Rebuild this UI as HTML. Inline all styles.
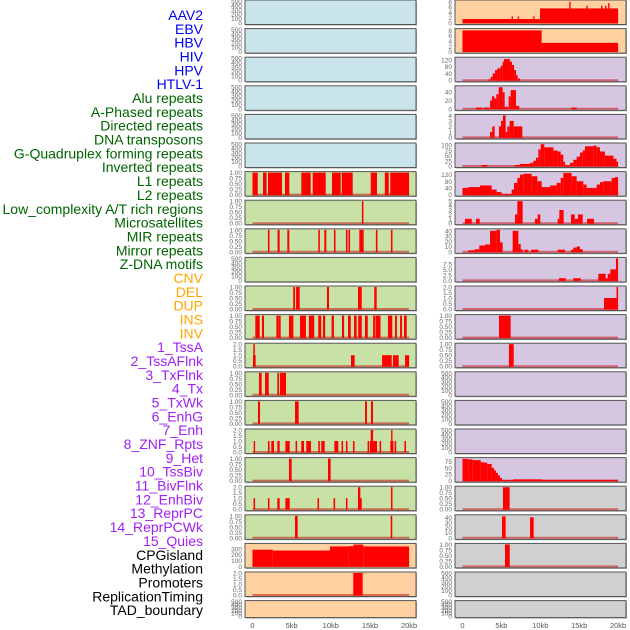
<!DOCTYPE html>
<html><head><meta charset="utf-8"><style>
body{margin:0;background:#fff;width:630px;height:630px;overflow:hidden;font-family:"Liberation Sans",sans-serif}
svg{display:block}
</style></head><body>
<svg id="c" width="630" height="630" xmlns="http://www.w3.org/2000/svg"></svg>
<script>
// ---- track labels ----
const labelNames = ["AAV2","EBV","HBV","HIV","HPV","HTLV-1","Alu repeats","A-Phased repeats","Directed repeats","DNA transposons","G-Quadruplex forming repeats","Inverted repeats","L1 repeats","L2 repeats","Low_complexity A/T rich regions","Microsatellites","MIR repeats","Mirror repeats","Z-DNA motifs","CNV","DEL","DUP","INS","INV","1_TssA","2_TssAFlnk","3_TxFlnk","4_Tx","5_TxWk","6_EnhG","7_Enh","8_ZNF_Rpts","9_Het","10_TssBiv","11_BivFlnk","12_EnhBiv","13_ReprPC","14_ReprPCWk","15_Quies","CPGisland","Methylation","Promoters","ReplicationTiming","TAD_boundary"];
const labelGroups = [6,13,5,15,5];
const groupColors = ["#0000ee","#006400","#ffa500","#a020f0","#000000"];
const xTickVals = [0,5,10,15,20];
const xTickLabels = ["0","5kb","10kb","15kb","20kb"];

// tick label sets
const T500 = ["0","100","200","300","400","500"];
const T1 = ["0.00","0.25","0.50","0.75","1.00"];
const T2 = ["0.0","0.5","1.0","1.5","2.0"];

// ---- left column segments [startKb, endKb, value] ----
const L6 = [[0,0.67,1],[1.34,1.8,1],[1.98,3.77,1],[4.15,4.7,1],[6.23,7.43,1],[7.69,9.35,1],[10.15,11.26,1],[11.39,12.8,1],[15.1,15.9,1],[16.9,17.4,1],[17.6,20,1]];
const L7 = [[13.97,14.17,1]];
const L8 = [[1.97,2.17,1],[3.2,3.47,1],[4.45,4.7,1],[8.4,8.6,1],[9.17,9.43,1],[10.4,10.6,1],[11.93,12.13,1],[12.26,12.46,1],[13.64,14.2,1],[15.76,15.96,1],[17.68,17.88,1]];
const L10 = [[5.2,5.43,1],[5.56,6.03,1],[9.51,9.77,1],[13.47,13.95,1],[15.55,15.86,1]];
const L11 = [[0.36,0.92,1],[1.21,1.47,1],[3.05,3.36,1],[3.39,3.6,1],[4.66,5.22,1],[6.07,6.83,1],[7.2,7.88,1],[8.4,8.78,1],[9.0,9.28,1],[10.1,10.4,1],[11.43,11.7,1],[12.2,12.55,1],[12.97,13.3,1],[13.5,13.95,1],[14.37,14.72,1],[15.4,15.64,1],[15.7,16.35,1],[17.3,17.85,1],[18.2,18.44,1],[18.85,19.1,1],[19.35,19.7,1]];
const L12 = [[0.06,0.4,1],[0.1,0.3,2],[12.58,13.05,1],[16.54,17.78,1],[17.94,18.67,1],[19.48,20,1]];
const L13 = [[0.83,1.17,1],[1.6,2.07,1],[3.17,3.38,1],[3.51,4.28,1]];
const L14 = [[0.7,0.96,1],[5.43,5.9,1],[14.37,14.62,1],[15.13,15.39,1]];
const L15 = [[0.15,0.33,1],[1.97,2.17,1],[2.4,2.75,1],[3.17,3.47,1],[4.2,4.75,1],[5.5,5.7,1],[6.23,6.58,1],[6.87,7.47,1],[8.4,8.6,1],[8.78,9.22,1],[10.45,10.96,1],[11.37,11.57,1],[11.93,12.13,1],[12.83,13.03,1],[14.7,14.9,1],[15.0,15.9,1],[15.1,15.4,2],[16.23,16.43,1],[17.6,18.0,1],[17.7,17.85,2],[18.15,18.35,1],[19.4,19.6,1]];
const L16 = [[4.66,5.0,1],[9.64,9.98,1]];
const L17 = [[0.13,0.33,1],[1.97,2.17,1],[3.17,3.47,1],[4.2,4.75,1],[8.3,8.5,1],[10.35,10.55,1],[11.93,12.13,1],[13.47,13.95,1],[13.47,13.77,2],[17.68,17.88,2]];
const L18 = [[5.43,5.77,1],[17.65,17.85,1]];
const L19 = [[0,2.6,285],[2.6,9.9,270],[9.9,12.24,340],[12.24,12.9,345],[12.9,14.15,372],[14.15,20,340]];
const L20 = [[12.87,14.07,2]];

// ---- right column segments ----
const R0 = [[0,9.96,1.5],[9.96,20,5.5],[6.3,6.45,2.5],[7.1,7.25,2.5],[9.08,9.23,2.5],[13.72,13.88,8],[15.9,16.05,6.5],[17.82,17.98,6.5],[18.32,18.48,6.5],[18.72,18.9,7.5]];
const R1 = [[0,10.17,8],[10.17,20,3.3]];
const R2 = [[3.36,3.62,5],[3.62,3.88,20],[3.88,4.18,40],[4.18,4.48,60],[4.48,4.9,70],[4.9,5.16,85],[5.16,5.33,110],[5.33,6.1,125],[6.1,6.36,110],[6.36,6.62,90],[6.62,6.88,60],[6.88,7.09,30],[7.09,7.39,10]];
const R3 = [[1.74,2.6,3],[2.77,3.45,3],[3.54,3.79,20],[3.79,4.09,30],[4.09,4.35,25],[4.35,4.65,35],[4.65,5.16,52],[5.16,5.42,40],[5.42,5.85,5],[5.93,6.19,30],[6.19,6.88,45],[6.88,7.3,7],[13.99,14.67,3]];
const R4 = [[3.54,3.83,1],[3.83,4.13,2],[4.69,4.95,2],[4.95,5.2,3],[5.2,5.55,4],[5.55,5.76,1],[5.76,6.06,2],[6.06,6.58,3],[6.58,7.69,2]];
const R5 = [[2.46,3.19,5],[6.75,7.39,5],[7.39,8.68,10],[8.68,9.1,15],[9.1,9.45,25],[9.45,9.75,40],[9.75,10.05,80],[10.05,10.52,105],[10.52,11.68,90],[11.68,12.23,75],[12.23,12.62,70],[12.62,12.96,55],[12.96,13.18,20],[13.18,13.82,5],[13.82,14.25,15],[14.25,14.67,30],[14.67,15.1,45],[15.1,15.45,65],[15.45,15.74,75],[15.74,16.81,95],[16.81,17.24,98],[17.24,17.67,90],[17.67,18.3,70],[18.3,19.4,50],[19.4,19.8,35],[19.8,20,20]];
const R6 = [[0,0.75,40],[0.75,2.25,45],[2.25,3.75,55],[3.75,4.39,30],[4.39,5.03,15],[5.03,6.32,3],[6.32,6.62,30],[6.62,7.05,70],[7.05,7.39,100],[7.39,7.82,120],[7.82,8.89,125],[8.89,9.62,110],[9.62,10.18,80],[10.18,11.25,45],[11.25,12.11,55],[12.11,12.62,70],[12.62,12.96,100],[12.96,14.03,130],[14.03,14.67,110],[14.67,15.53,80],[15.53,15.96,60],[15.96,17.24,40],[17.24,17.67,60],[17.67,18.1,75],[18.1,19.17,80],[19.17,19.6,100],[19.6,20,105]];
const R7 = [[0.32,1.18,1],[1.74,2.21,1],[6.75,7.05,2],[7.05,7.73,5],[9.32,9.66,1],[9.66,10.0,2],[12.23,12.45,1],[12.45,13.0,3],[13.95,14.42,2],[14.42,14.85,1],[14.85,15.45,2],[16.0,16.9,1]];
const R8 = [[0.75,1.6,3],[1.6,2.16,5],[2.16,2.89,12],[2.89,3.54,14],[3.54,4.39,40],[4.39,4.82,42],[4.82,5.16,18],[6.45,7.18,40],[7.18,7.48,15],[7.48,7.73,5],[7.95,8.46,4],[8.8,9.75,4],[12.23,13.18,4],[13.95,14.25,4],[14.25,14.67,8],[14.67,15.1,10],[15.1,15.45,5]];
const R9 = [[12.4,13.26,1],[14.25,15.19,1],[17.46,18.4,3],[18.4,18.66,1],[18.66,19.0,3],[19.0,19.73,5],[19.73,20,10]];
const R10 = [[18.19,19.8,1],[19.8,20,2]];
const R11 = [[4.69,6.19,1]];
const R12 = [[5.97,6.58,1]];
const R16 = [[0,0.75,85],[0.75,1.31,83],[1.31,2.34,80],[2.34,2.77,72],[2.77,3.19,70],[3.19,3.75,65],[3.75,4.05,50],[4.05,4.3,40],[4.3,4.56,30],[4.56,4.82,20],[4.82,5.08,10],[5.08,6.53,2],[6.53,10.18,5],[10.18,20,3]];
const R17 = [[5.2,6.06,1]];
const R18 = [[5.08,5.55,42],[8.68,9.15,40]];
const R19 = [[5.46,6.07,1]];

const BLUE="#c9e4eb",GREEN="#c8e1a6",PEACH="#ffd0a0",PURP="#d6c6e2",GRAY="#d0d0d0";
// [col,row,bg,ticks,ymax,segments,baseline,name]
const panels = [];
function P(col,row,bg,ticks,ymax,seg,base,name){panels.push({col,row,bg,ticks,ymax,seg,base,name});}
for(let r=0;r<6;r++) P(0,r,BLUE,T500,500,[],false,labelNames[r]);
P(0,6,GREEN,T1,1,L6,true,"alu");P(0,7,GREEN,T1,1,L7,true,"a-phased");P(0,8,GREEN,T1,1,L8,true,"directed");
P(0,9,GREEN,T500,500,[],false,"dna-transposons");P(0,10,GREEN,T1,1,L10,true,"g-quad");P(0,11,GREEN,T1,1,L11,true,"inverted");
P(0,12,GREEN,T2,2,L12,true,"l1");P(0,13,GREEN,T1,1,L13,true,"l2");P(0,14,GREEN,T1,1,L14,true,"low-complexity");
P(0,15,GREEN,T2,2,L15,true,"microsatellites");P(0,16,GREEN,T1,1,L16,true,"mir");P(0,17,GREEN,T2,2,L17,true,"mirror");
P(0,18,GREEN,T1,1,L18,true,"z-dna");P(0,19,PEACH,["0","100","200","300"],375,L19,false,"cnv");
P(0,20,PEACH,T2,2,L20,true,"del");P(0,21,PEACH,T500,500,[],false,"dup");
P(1,0,PEACH,["0","2","4","6","8"],8.3,R0,false,"ins");P(1,1,PEACH,["0","2","4","6","8"],8.3,R1,false,"inv");
P(1,2,PURP,["0","40","80","120"],130,R2,true,"1-tssa");P(1,3,PURP,["0","20","40"],53,R3,true,"2-tssaflnk");
P(1,4,PURP,["0","1","2","3","4"],4,R4,true,"3-txflnk");P(1,5,PURP,["0","25","50","75","100"],106,R5,true,"4-tx");
P(1,6,PURP,["0","40","80","120"],132,R6,true,"5-txwk");P(1,7,PURP,["0","1","2","3","4","5"],5,R7,true,"6-enhg");
P(1,8,PURP,["0","10","20","30","40"],42,R8,true,"7-enh");P(1,9,PURP,["0.0","2.5","5.0","7.5"],10,R9,true,"8-znf");
P(1,10,PURP,T2,2,R10,true,"9-het");P(1,11,PURP,T1,1,R11,true,"10-tssbiv");P(1,12,PURP,T1,1,R12,true,"11-bivflnk");
P(1,13,PURP,T500,500,[],false,"12-enhbiv");P(1,14,PURP,T500,500,[],false,"13-reprpc");P(1,15,PURP,T500,500,[],false,"14-reprpcwk");
P(1,16,PURP,["0","25","50","75"],86,R16,true,"15-quies");P(1,17,GRAY,T1,1,R17,true,"cpgisland");
P(1,18,GRAY,["0","10","20","30","40"],43,R18,true,"methylation");P(1,19,GRAY,T1,1,R19,true,"promoters");
P(1,20,GRAY,T500,500,[],false,"replication-timing");P(1,21,GRAY,T500,500,[],false,"tad-boundary");

const NS="http://www.w3.org/2000/svg";
const svg=document.getElementById("c");
function mk(tag,attrs,parent){const e=document.createElementNS(NS,tag);for(const k in attrs)e.setAttribute(k,attrs[k]);(parent||svg).appendChild(e);return e;}

// labels
let li=0;
labelGroups.forEach((n,g)=>{for(let i=0;i<n;i++){const t=mk("text",{x:203,y:15+li*13.84+5,"text-anchor":"end","font-size":"14",fill:groupColors[g]});


t.textContent=labelNames[li];li++;}});

const colX=[{x0:245,x1:416,z:252.5,k:7.83},{x0:455,x1:626,z:462.5,k:7.78}];
function xs(c,kb){return colX[c].z+kb*colX[c].k;}

panels.forEach(p=>{
  const c=colX[p.col];const top=p.row*28.6;const h=p.row===21?17:24.5;
  const g=mk("g",{});
  
  
  mk("rect",{x:c.x0+1,y:top+1,width:c.x1-c.x0,height:h,fill:"#aaa"},g);
  mk("rect",{x:c.x0,y:top,width:c.x1-c.x0,height:h,fill:p.bg,stroke:"#555","stroke-width":1},g);
  const yb=top+h-1.5,yt=top+1;
  const ys=v=>yb-(v/p.ymax)*(yb-yt);
  if(p.base){const b=mk("line",{x1:xs(p.col,0),x2:xs(p.col,20),y1:yb,y2:yb,stroke:"rgba(200,0,0,0.5)","stroke-width":2},g);
    
    }
  p.seg.forEach(s=>{const x1=xs(p.col,s[0]),x2=xs(p.col,s[1]);
    const r=mk("rect",{x:x1,y:ys(s[2]),width:Math.max(1.4,x2-x1),height:yb-ys(s[2])+0.5,fill:"#ff0000"},g);
    
    });
  p.ticks.forEach(t=>{const v=parseFloat(t);
    const tx=mk("text",{x:c.x0-3,y:ys(v)+2.5,"text-anchor":"end","font-size":"6.5",fill:"#666"},g);
    
    
    tx.textContent=t;});
});
[0,1].forEach(col=>{xTickVals.forEach((v,i)=>{
  const t=mk("text",{x:xs(col,v),y:628,"text-anchor":"middle","font-size":"7.5",fill:"#555"});
  
  
  t.textContent=xTickLabels[i];});});
</script>
</body></html>
